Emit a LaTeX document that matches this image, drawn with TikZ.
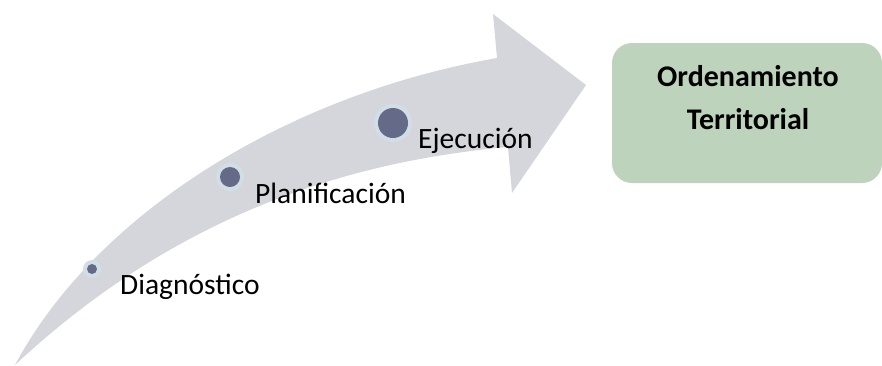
\documentclass[tikz,border=0pt]{standalone}
\usepackage{fontspec}
\setmainfont{Carlito}
\definecolor{arrowgray}{HTML}{D4D6DB}
\definecolor{dotblue}{HTML}{646A88}
\definecolor{halo}{HTML}{D2DEE6}
\definecolor{boxgreen}{HTML}{BDD3BB}
\begin{document}
\begin{tikzpicture}[x=1pt,y=-1pt,
  lbl/.style={anchor=west,inner sep=0pt,font=\fontsize{29.5}{34}\selectfont},
  haloc/.style={circle,fill=halo,inner sep=0pt},
  dotc/.style={circle,fill=dotblue,inner sep=0pt},
  goalbox/.style={rounded corners=20pt,fill=boxgreen,minimum width=270pt,minimum height=140pt,inner sep=0pt},
  goaltext/.style={align=center,inner sep=0pt,font=\fontsize{30}{43}\selectfont\bfseries}]
\useasboundingbox (0,0) rectangle (882,365);
% arrow
\fill[arrowgray] (15,365) .. controls (95,215) and (285,95) .. (497,58)
  -- (493,14) -- (586,85) -- (512,193) -- (508,147)
  .. controls (330,163) and (165,225) .. (15,365) -- cycle;
% dots
\node[haloc,minimum size=18pt] (h1) at (92,269) {};
\node[dotc,minimum size=10pt] (d1) at (92,269) {};
\node[haloc,minimum size=28pt] (h2) at (230,177) {};
\node[dotc,minimum size=20pt] (d2) at (230,177) {};
\node[haloc,minimum size=38pt] (h3) at (393,123) {};
\node[dotc,minimum size=30pt] (d3) at (393,123) {};
% labels
\node[lbl] (t1) at (120,287) {Diagnóstico};
\node[lbl] (t2) at (255,193) {Planificación};
\node[lbl] (t3) at (418,141) {Ejecución};
% goal box
\node[goalbox] (goal) at (747,113) {};
\node[goaltext] (goalt) at (748,98) {Ordenamiento\\Territorial};
\end{tikzpicture}
\end{document}
